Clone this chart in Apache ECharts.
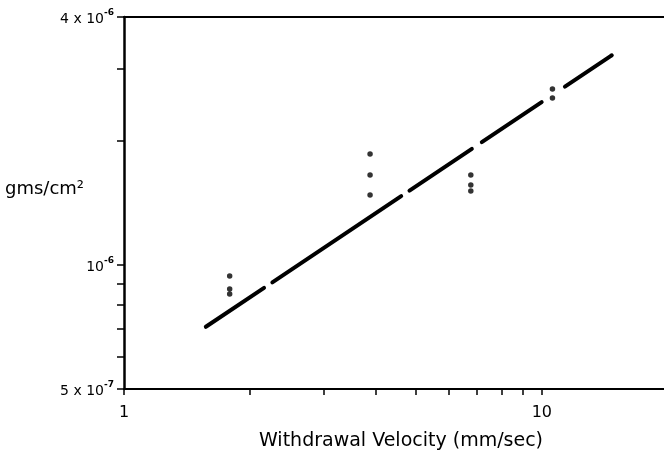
<!DOCTYPE html>
<html><head><meta charset="utf-8">
<script src="https://cdn.jsdelivr.net/npm/echarts@6/dist/echarts.min.js"></script>
<style>html,body{margin:0;padding:0;background:#fff}#c{width:664px;height:450px}</style>
</head><body><div id="c"></div>
<script>
// Data
const xTicks = [1,2,3,4,5,6,7,8,9,10];
const xLabels = [1,10];
const yTicks = [5e-7,6e-7,7e-7,8e-7,9e-7,1e-6,2e-6,3e-6,4e-6];
const yLabels = [5e-7,1e-6,4e-6];
const pointsX = [1.79,1.79,1.79, 3.88,3.88,3.88, 6.76,6.76,6.76, 10.6,10.6];
const pointsY = [9.4e-7,8.75e-7,8.5e-7, 1.86e-6,1.654e-6,1.479e-6, 1.654e-6,1.564e-6,1.512e-6, 2.674e-6,2.543e-6];
const fitX = [1.57, 14.7];
const fitY = [7.08e-7, 3.23e-6];

const font = '"DejaVu Sans", "Liberation Sans", Arial, sans-serif';
const chart = echarts.init(document.getElementById('c'), null, {renderer:'canvas'});
function yFmt(v){
  const l = Math.log10(v);
  if (Math.abs(l - Math.log10(4e-6)) < 0.01) return '{a|4 x 10}{s|-6}';
  if (Math.abs(l + 6) < 0.01) return '{a|10}{s|-6}';
  if (Math.abs(l - Math.log10(5e-7)) < 0.01) return '{a|5 x 10}{s|-7}';
  return '';
}
chart.setOption({
  backgroundColor:'#fff',
  animation:false,
  grid:{left:124, top:17, right:0, bottom:61, containLabel:false, outerBoundsMode:'none'},
  xAxis:[{
    type:'log', logBase:10, min:1, max:19.6,
    name:'Withdrawal Velocity (mm/sec)', nameLocation:'middle', nameGap:43,
    nameTextStyle:{fontFamily:font, fontSize:19, color:'#000', padding:[0,0,0,14]},
    axisLine:{show:true, lineStyle:{color:'#000', width:2}},
    axisTick:{show:true, inside:false, length:6, customValues:xTicks, lineStyle:{color:'#000', width:1.5}},
    minorTick:{show:false},
    axisLabel:{show:true, customValues:xLabels, margin:16, fontFamily:font, fontSize:16, color:'#000',
      formatter:v=>String(Math.round(v))},
    splitLine:{show:false}
  },{
    type:'log', logBase:10, min:1, max:19.6, position:'top',
    axisLine:{show:true, lineStyle:{color:'#000', width:2}},
    axisTick:{show:false}, axisLabel:{show:false}, splitLine:{show:false}
  }],
  yAxis:{
    type:'log', logBase:10, min:5e-7, max:4e-6,
    axisLine:{show:true, lineStyle:{color:'#000', width:2.5}},
    axisTick:{show:true, inside:false, length:7, customValues:yTicks, lineStyle:{color:'#000', width:1.5}},
    axisLabel:{show:true, customValues:yLabels, margin:10, fontFamily:font, color:'#000', formatter:yFmt,
      rich:{a:{fontFamily:font, fontSize:14, color:'#000', lineHeight:18, verticalAlign:'bottom'},
            s:{fontFamily:font, fontSize:9, color:'#000', lineHeight:18, verticalAlign:'top', fontWeight:'bold'}}},
    splitLine:{show:false}
  },
  graphic:[{type:'text', left:5, top:180, style:{text:'gms/cm²', font:'18px "DejaVu Sans", "Liberation Sans", sans-serif', fill:'#000'}}],
  series:[{
    type:'line', data:fitX.map((x,i)=>[x,fitY[i]]), symbol:'none',
    lineStyle:{color:'#000', width:4, type:[70,10,155,10,75,12,72,28,54,0], cap:'round'}
  },{
    type:'scatter', data:pointsX.map((x,i)=>[x,pointsY[i]]), symbol:'circle', symbolSize:5.5,
    itemStyle:{color:'#000'}
  }]
});
</script></body></html>
